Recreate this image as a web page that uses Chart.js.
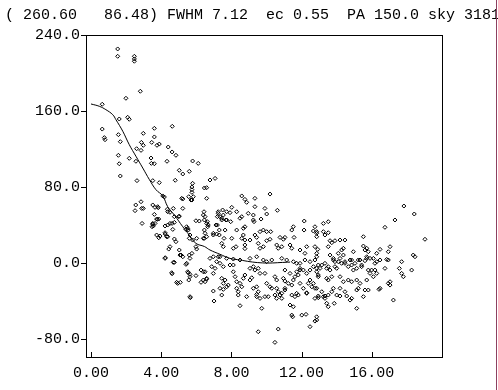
<!DOCTYPE html>
<html>
<head>
<meta charset="utf-8">
<script src="https://cdn.jsdelivr.net/npm/chart.js@4.4.0/dist/chart.umd.min.js"></script>
<style>
  html, body { margin: 0; padding: 0; background: #fff; }
</style>
</head>
<body>
<canvas id="profileChart" width="498" height="390"></canvas>
<script>
const headerText = '( 260.60   86.48) FWHM 7.12  ec 0.55  PA 150.0 sky 3181';
const xTicks = [0, 4, 8, 12, 16];
const yTicks = [-80, 0, 80, 160, 240];

// measured points (radius vs value)
const scatterX = [
    1.52, 1.52, 2.47, 2.47, 2.47, 2.81, 1.99, 0.64, 2.09, 2.18, 1.61, 4.63, 3.61, 0.64, 0.76, 0.80, 1.56, 1.67, 2.98, 3.61,
    2.87, 2.98, 3.46, 3.76, 3.89, 4.40, 4.62, 4.84, 2.60, 2.85, 1.56, 2.18, 2.56, 3.42, 3.44, 3.61, 4.33, 1.61, 5.79, 6.11,
    5.03, 5.23, 5.60, 1.67, 2.62, 4.80, 3.52, 3.89, 5.79, 5.75, 5.75, 5.75, 6.46, 4.09, 4.18, 6.78, 7.07, 5.83, 5.75, 6.59,
    6.59, 5.17, 2.55, 2.51, 2.89, 2.85, 3.52, 3.65, 3.80, 4.35, 4.50, 4.69, 5.03, 2.91, 3.52, 3.55, 3.78, 4.22, 4.50, 4.66,
    5.45, 5.54, 5.98, 6.50, 6.59, 6.65, 7.25, 7.35, 7.54, 7.45, 7.73, 7.12, 3.74, 4.23, 4.31, 6.50, 6.59, 6.97, 7.16, 7.31,
    6.02, 5.23, 5.57, 5.70, 2.98, 3.83, 4.37, 5.23, 3.61, 3.74, 3.86, 4.75, 5.00, 6.17, 6.46, 3.52, 3.48, 3.65, 4.37, 4.62,
    4.75, 5.51, 5.41, 3.86, 4.37, 4.75, 4.84, 5.64, 5.79, 5.60, 5.98, 6.02, 6.46, 6.46, 4.50, 4.43, 5.03, 5.13, 5.23, 4.23,
    5.60, 5.75, 5.64, 4.75, 5.41, 4.62, 5.51, 5.64, 5.57, 5.98, 6.27, 6.40, 6.27, 4.94, 5.09, 5.66, 4.22, 3.93, 8.59, 8.77,
    8.87, 9.34, 10.20, 9.34, 9.91, 10.01, 10.62, 6.44, 6.40, 7.25, 7.50, 7.73, 7.92, 8.02, 8.30, 8.96, 9.25, 7.20, 7.45, 7.69,
    7.96, 8.49, 8.59, 9.25, 9.29, 9.69, 6.63, 6.68, 7.20, 7.64, 8.30, 8.68, 8.77, 9.63, 9.82, 10.01, 10.24, 11.44, 11.53, 12.15,
    12.14, 12.76, 12.67, 12.86, 6.97, 7.31, 7.58, 6.40, 8.02, 8.59, 8.68, 8.77, 9.06, 9.34, 9.44, 10.01, 10.20, 10.77, 10.96, 11.05,
    11.57, 7.45, 7.54, 8.11, 8.26, 8.77, 8.77, 9.53, 9.63, 9.82, 10.58, 10.67, 10.87, 11.34, 11.44, 11.91, 12.19, 12.29, 12.76, 6.50,
    6.59, 6.40, 6.97, 7.07, 6.88, 7.16, 7.35, 7.25, 6.97, 6.78, 7.45, 7.64, 7.54, 7.73, 7.82, 6.97, 7.01, 7.45, 7.35, 7.54,
    8.11, 8.21, 8.30, 8.49, 8.59, 8.30, 8.39, 8.39, 8.87, 8.49, 8.68, 8.77, 9.06, 9.16, 9.25, 9.44, 9.53, 9.44, 9.63, 9.73,
    10.01, 10.20, 10.30, 10.10, 10.48, 10.58, 10.58, 10.67, 10.77, 10.87, 10.48, 10.58, 10.96, 11.05, 11.05, 11.44, 11.62, 11.81, 11.24, 11.44,
    11.53, 11.44, 12.01, 12.25, 12.86, 12.76, 12.48, 10.67, 9.53, 10.48, 11.72, 11.81, 11.91, 12.29, 12.48, 12.38, 12.58, 12.86, 12.95, 12.95,
    12.29, 12.95, 7.35, 7.73, 8.11, 8.49, 9.06, 9.44, 9.82, 10.01, 10.30, 10.87, 11.15, 11.53, 11.91, 12.19, 12.48, 12.76, 9.06, 9.25,
    9.34, 9.53, 9.63, 9.91, 7.92, 8.11, 7.54, 4.22, 4.69, 4.60, 4.88, 5.64, 5.07, 5.45, 5.54, 5.64, 6.50, 6.59, 9.44, 9.91,
    13.24, 13.52, 13.24, 13.52, 12.86, 13.33, 13.62, 13.90, 14.19, 14.47, 15.52, 16.75, 17.32, 17.83, 18.42, 19.03, 18.36, 17.70, 17.57, 17.70,
    17.80, 18.27, 17.04, 16.94, 16.85, 16.75, 16.47, 16.28, 16.09, 16.18, 15.99, 15.90, 15.52, 15.71, 15.80, 15.71, 15.61, 15.33, 15.42, 15.14,
    14.85, 14.47, 14.66, 14.95, 14.38, 14.19, 14.09, 13.62, 13.81, 13.90, 13.43, 13.62, 13.72, 13.52, 14.19, 14.38, 14.66, 15.14, 15.33, 15.71,
    15.80, 16.09, 16.28, 16.47, 16.94, 17.04, 17.23, 15.14, 15.52, 15.61, 14.85, 14.57, 14.19, 14.00, 13.72, 13.52, 13.33, 13.33, 15.14, 13.86,
    12.67, 12.76, 12.86, 12.67, 12.48, 11.72, 11.91, 12.10, 11.05, 11.34, 11.62, 11.53, 11.91, 12.10, 12.29, 11.72, 10.87, 11.05, 12.76, 12.95,
    13.43, 13.52, 11.34, 11.49, 12.86, 13.72, 13.52, 12.92, 12.86, 12.86, 15.61, 14.28, 14.38, 14.09, 14.95, 13.15, 13.33, 13.05, 12.86, 12.95,
    13.52, 13.43, 13.81, 13.90, 14.00, 14.28, 14.47, 14.76, 14.85, 15.04, 15.23, 15.42, 15.71, 16.18, 16.28, 16.47, 16.94, 18.46, 17.04, 15.80,
    15.23, 14.85, 14.47, 14.19, 14.76, 13.15, 13.24, 13.81, 12.86, 16.41, 15.90
];
const scatterY = [
    225.3, 217.6, 217.6, 214.8, 212.4, 180.8, 173.4, 167.1, 153.4, 151.3, 151.6, 143.9, 141.8, 141.0, 132.0, 129.8, 135.1, 127.7, 136.5, 132.7,
    127.0, 123.9, 127.0, 123.9, 125.2, 122.1, 116.9, 113.4, 120.3, 118.6, 113.4, 110.2, 107.1, 110.5, 104.9, 104.5, 107.1, 104.5, 107.4, 104.9,
    97.6, 93.7, 96.5, 91.6, 86.7, 87.1, 86.7, 84.6, 83.9, 80.0, 77.2, 74.4, 79.0, 70.6, 69.5, 87.4, 89.1, 69.8, 66.3, 79.3,
    68.1, 68.1, 61.1, 55.1, 57.5, 64.5, 61.1, 58.6, 59.3, 56.6, 53.4, 57.5, 49.4, 41.7, 41.7, 39.0, 46.0, 39.0, 41.7, 35.4,
    38.2, 34.7, 44.5, 48.8, 41.7, 38.2, 52.3, 48.8, 50.5, 45.3, 45.3, 40.0, 29.5, 30.5, 27.7, 31.3, 27.7, 31.3, 30.5, 34.7,
    26.0, 67.4, 69.8, 66.3, 57.5, 58.2, 54.0, 57.5, 51.2, 46.3, 46.3, 48.8, 48.8, 44.2, 45.3, 40.8, 38.2, 41.7, 40.0, 41.7,
    42.8, 36.5, 35.4, 26.6, 27.7, 25.3, 22.4, 29.5, 24.2, 26.0, 17.2, 14.7, 34.7, 26.0, 17.2, 14.7, 13.7, 8.4, 6.6, 5.6,
    8.4, 10.2, 4.9, 0.7, -1.4, -11.3, -9.2, -11.9, -17.9, -13.3, -7.4, -9.2, -20.3, -21.4, -20.3, -36.5, 31.9, 28.4, 70.6, 67.0,
    63.9, 68.1, 72.6, 59.3, 57.5, 51.6, 55.5, 54.0, 50.5, 54.0, 55.8, 54.0, 53.0, 58.6, 54.0, 52.3, 50.5, 48.8, 47.1, 45.3,
    43.5, 47.1, 48.8, 45.3, 43.5, 46.3, 43.5, 40.0, 40.0, 34.7, 34.7, 36.5, 38.2, 33.0, 34.7, 33.0, 33.0, 34.7, 38.2, 44.2,
    34.7, 38.2, 33.7, 33.0, 29.5, 29.5, 26.0, 26.0, 26.0, 26.0, 29.5, 24.2, 24.2, 29.5, 27.0, 23.5, 25.0, 27.0, 25.0, 27.0,
    27.0, 20.7, 17.2, 15.5, 17.2, 19.0, 15.1, 20.7, 15.5, 17.2, 19.0, 15.5, 17.2, 19.0, 15.5, 13.7, 10.2, 17.2, 17.2, -9.2,
    -16.9, -17.9, -10.9, -5.6, -3.8, 1.4, -0.3, 6.6, 6.6, 4.9, -16.1, -17.9, -21.4, -25.0, -23.2, -29.5, -40.0, -33.7, -26.6, -27.7,
    -9.2, -14.4, -19.7, -21.4, -25.0, -26.6, -30.2, -33.7, -35.4, -44.9, -16.1, -12.6, -17.9, -15.5, -26.6, -25.0, -30.2, -35.4, -37.2, -47.7,
    -21.4, -25.0, -26.6, -35.4, -14.4, -17.9, -26.6, -30.2, -33.7, -37.2, -33.7, -37.2, -16.1, -19.0, -26.6, -33.7, -35.4, -33.7, -21.4, -23.2,
    -46.0, -54.8, -54.8, -54.0, -56.6, -61.1, -67.0, -69.5, -72.3, -83.5, -9.2, -12.6, -7.4, -10.9, -17.9, -21.4, -25.0, -26.6, -12.6, -2.1,
    -31.9, -36.5, 6.6, 4.9, 4.2, 3.2, 4.9, 6.6, 3.2, 1.4, 3.2, 4.9, 3.2, 1.4, -0.3, 3.2, 1.4, 3.2, -5.6, -3.8,
    -7.4, -5.6, -10.9, -10.9, -2.1, -2.1, -3.8, 4.9, 0.7, -10.2, -20.3, -35.4, 8.4, -0.3, -10.2, -14.4, -19.7, -16.1, -33.0, -35.4,
    41.7, 43.5, 33.0, 31.9, 27.7, 29.5, 23.5, 23.5, 24.2, 24.2, 27.7, 37.6, 45.3, 60.0, 51.6, 25.0, 8.4, 1.4, -5.6, -10.9,
    -14.4, -7.4, 17.2, 11.9, 3.8, -5.6, 14.4, 10.2, 4.9, -0.3, -7.4, -10.9, 17.9, 15.5, 11.9, 6.6, 2.4, 3.2, -3.8, -5.6,
    3.2, -0.3, -3.8, -7.4, 8.4, 4.9, 1.4, 8.4, 3.2, -3.8, -5.6, -7.4, -14.4, -17.9, -14.4, -19.7, -17.9, -17.9, -21.4, -17.9,
    -7.4, -14.4, -10.9, -26.6, -21.4, -19.7, -39.0, -28.4, -35.4, -28.4, -37.2, -34.7, -34.7, -33.7, -30.2, -33.7, -34.7, -37.2, -47.7, -42.4,
    -21.4, -26.6, -5.6, -3.8, -7.4, -0.3, -5.6, -7.4, -7.4, -10.9, -14.4, -17.9, -21.4, -26.6, -31.3, -31.9, -31.9, -28.4, -37.2, -34.7,
    -42.4, -46.0, -44.2, -56.6, 31.3, 21.4, 17.2, 14.4, 10.2, 6.6, 13.7, 13.7, 15.5, 10.2, 11.9, -2.1, -0.3, -5.6, -9.2, -14.4,
    -3.8, -16.1, 4.9, 1.4, -5.6, -0.3, 1.4, 3.2, -2.1, -0.3, 3.2, -2.1, 4.9, -7.4, 1.4, 3.2, 3.2, 6.6, -23.2, -28.4,
    -26.6, -19.7, -30.2, -26.6, -39.0, -30.2, -35.4, -26.6, -60.0, -27.7, 4.9
];

// fitted profile
const fitX = [0, 0.47, 0.85, 1.24, 1.42, 1.81, 2.18, 2.56, 2.95, 3.33, 3.70, 4.09, 4.37, 4.75, 5.23, 5.60, 5.98,
    6.46, 6.78, 7.35, 7.92, 8.49, 9.06, 9.63, 10.20, 10.77, 11.34];
const fitY = [167.4, 165.0, 161.4, 156.1, 150.9, 138.7, 124.6, 112.4, 100.0, 87.7, 77.2, 70.6, 59.3, 50.5, 38.2, 29.5, 20.7,
    17.4, 13.7, 9.2, 4.9, 3.2, 1.4, 0.3, 0.0, 0.5, 1.0];

const points = scatterX.map((x, i) => ({ x: x, y: scatterY[i] }));
const fitLine = fitX.map((x, i) => ({ x: x, y: fitY[i] }));

const labelFont = { family: '"Liberation Mono", "DejaVu Sans Mono", monospace', size: 15 };

const framePlugin = {
    id: 'framePlugin',
    afterDraw(chart) {
        const ctx = chart.ctx;
        const area = chart.chartArea;
        ctx.save();
        ctx.strokeStyle = '#000';
        ctx.lineWidth = 1;
        ctx.strokeRect(area.left + 0.5, area.top + 0.5, area.right - area.left, area.bottom - area.top);

        ctx.beginPath();
        yTicks.forEach(v => {
            const y = Math.round(chart.scales.y.getPixelForValue(v)) + 0.5;
            ctx.moveTo(area.left - 5, y);
            ctx.lineTo(area.left, y);
        });
        xTicks.forEach(v => {
            const x = Math.round(chart.scales.x.getPixelForValue(v)) + 0.5;
            ctx.moveTo(x, area.bottom - 5);
            ctx.lineTo(x, area.bottom);
        });
        ctx.stroke();

        ctx.fillStyle = '#000';
        ctx.font = '15px "Liberation Mono", "DejaVu Sans Mono", monospace';
        ctx.textBaseline = 'alphabetic';
        ctx.textAlign = 'left';
        ctx.fillText(headerText, 5, 19);

        // window edge
        ctx.strokeStyle = '#8c4060';
        ctx.beginPath();
        ctx.moveTo(496.5, 0);
        ctx.lineTo(496.5, 390);
        ctx.stroke();
        ctx.restore();
    }
};

const ctx = document.getElementById('profileChart').getContext('2d');
const profileChart = new Chart(ctx, {
    type: 'scatter',
    data: {
        datasets: [
            {
                label: 'Fit',
                data: fitLine,
                showLine: true,
                borderColor: '#000',
                borderWidth: 1,
                pointRadius: 0,
                tension: 0.4,
                fill: false,
            },
            {
                label: 'Data',
                data: points,
                pointStyle: 'rectRot',
                pointRadius: 2,
                borderColor: '#000',
                borderWidth: 1,
                backgroundColor: 'rgba(0, 0, 0, 0)',
            },
        ],
    },
    options: {
        responsive: false,
        animation: false,
        devicePixelRatio: 1,
        layout: {
            padding: { top: 35, right: 56, left: 0, bottom: 0 },
        },
        plugins: {
            legend: { display: false },
            tooltip: { enabled: false },
        },
        scales: {
            x: {
                type: 'linear',
                min: -0.285,
                max: 20,
                afterFit: (scale) => { scale.height = 33; },
                afterBuildTicks: (scale) => { scale.ticks = xTicks.map(v => ({ value: v })); },
                grid: { display: false, drawTicks: false },
                border: { display: false },
                ticks: {
                    color: '#000',
                    font: labelFont,
                    padding: 7,
                    maxRotation: 0,
                    callback: (v) => Number(v).toFixed(2),
                },
            },
            y: {
                type: 'linear',
                min: -98.9,
                max: 240,
                afterFit: (scale) => { scale.width = 86; },
                afterBuildTicks: (scale) => { scale.ticks = yTicks.map(v => ({ value: v })); },
                grid: { display: false, drawTicks: false },
                border: { display: false },
                ticks: {
                    color: '#000',
                    font: labelFont,
                    padding: 6,
                    callback: (v) => Number(v).toFixed(1),
                },
            },
        },
    },
    plugins: [framePlugin],
});
</script>
</body>
</html>
